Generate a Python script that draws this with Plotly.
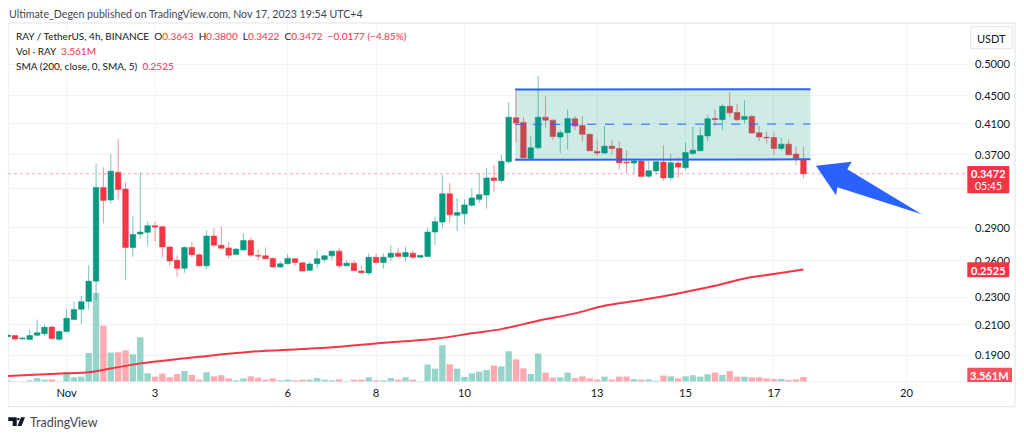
import pandas as pd
import plotly.graph_objects as go

# 4h bars, first one is 2023-10-30 16:00
ohlc = [
    (.2019, .2032, .2018, .2030), (.2027, .2029, .1991, .2004), (.2004, .2015, .2000, .2009), (.2001, .2067, .2000, .2027),
    (.2029, .2138, .2022, .2046), (.2040, .2103, .2022, .2083), (.2085, .2095, .2002, .2007), (.2002, .2067, .1991, .2055),
    (.2055, .2215, .2046, .2147), (.2138, .2269, .2138, .2210), (.2212, .2312, .2105, .2269), (.2271, .2562, .2212, .2429),
    (.2429, .3593, .2279, .3317), (.3317, .3547, .2943, .3177), (.3181, .3706, .3146, .3501), (.3489, .3893, .3188, .3295),
    (.3299, .3376, .2442, .2717), (.2717, .3014, .2634, .2836), (.2841, .3489, .2798, .2860), (.2857, .2960, .2731, .2921),
    (.2921, .2960, .2771, .2907), (.2911, .2924, .2631, .2722), (.2720, .2737, .2562, .2597), (.2603, .2646, .2465, .2535),
    (.2535, .2728, .2498, .2717), (.2717, .2764, .2629, .2651), (.2651, .2663, .2556, .2556), (.2556, .2876, .2527, .2822),
    (.2822, .2897, .2722, .2737), (.2737, .2911, .2704, .2710), (.2713, .2771, .2617, .2648), (.2654, .2710, .2648, .2702),
    (.2695, .2847, .2687, .2780), (.2780, .2811, .2631, .2648), (.2646, .2699, .2603, .2640), (.2642, .2717, .2614, .2617),
    (.2620, .2629, .2538, .2546), (.2546, .2594, .2538, .2574), (.2574, .2657, .2568, .2620), (.2617, .2623, .2554, .2585),
    (.2582, .2591, .2507, .2512), (.2518, .2594, .2512, .2571), (.2574, .2693, .2532, .2617), (.2611, .2651, .2588, .2642),
    (.2642, .2687, .2605, .2684), (.2684, .2710, .2538, .2556), (.2556, .2603, .2554, .2579), (.2579, .2603, .2510, .2515),
    (.2512, .2559, .2496, .2498), (.2496, .2663, .2479, .2629), (.2629, .2666, .2582, .2585), (.2585, .2663, .2532, .2631),
    (.2631, .2737, .2597, .2666), (.2666, .2710, .2634, .2637), (.2634, .2725, .2594, .2672), (.2666, .2690, .2614, .2629),
    (.2631, .2651, .2623, .2646), (.2637, .2905, .2634, .2860), (.2860, .3009, .2740, .2960), (.2956, .3458, .2895, .3248),
    (.3248, .3368, .2953, .3028), (.3024, .3203, .2869, .3051), (.3038, .3188, .2934, .3130), (.3126, .3306, .3105, .3203),
    (.3188, .3481, .3150, .3238), (.3235, .3539, .3092, .3424), (.3424, .3577, .3270, .3394), (.3394, .3694, .3365, .3618),
    (.3613, .4402, .3589, .4190), (.4182, .4579, .3851, .4108), (.4118, .4195, .3621, .3661), (.3653, .3931, .3637, .3784),
    (.3784, .4805, .3767, .4190), (.4190, .4490, .4047, .4149), (.4149, .4159, .3885, .3929), (.3923, .4014, .3718, .3980),
    (.3980, .4298, .3767, .4172), (.4168, .4203, .4014, .4068), (.4077, .4203, .3859, .3958), (.3958, .3964, .3743, .3747),
    (.3739, .3893, .3682, .3718), (.3718, .4068, .3714, .3805), (.3805, .3880, .3706, .3776), (.3776, .3864, .3519, .3601),
    (.3609, .3755, .3481, .3601), (.3597, .3653, .3478, .3621), (.3621, .3633, .3436, .3441), (.3443, .3621, .3421, .3507),
    (.3504, .3621, .3458, .3613), (.3609, .3817, .3390, .3424), (.3427, .3706, .3394, .3601), (.3597, .3666, .3424, .3549),
    (.3541, .3851, .3512, .3727), (.3714, .4055, .3694, .3755), (.3747, .4055, .3743, .3941), (.3936, .4218, .3868, .4168),
    (.4172, .4298, .4068, .4159), (.4155, .4383, .4014, .4344), (.4344, .4560, .4190, .4251), (.4255, .4383, .4136, .4155),
    (.4159, .4431, .4100, .4200), (.4200, .4231, .3967, .3975), (.3980, .4068, .3872, .3923), (.3919, .3994, .3838, .3913),
    (.3915, .3980, .3702, .3776), (.3776, .3915, .3751, .3830), (.3830, .3890, .3694, .3697), (.3706, .3791, .3573, .3653),
    (.3643, .3800, .3422, .3472),
]
volume = [
    1.0, .5, .3, 1.2, 2.8, 1.7, 1.9, .5, 6.9, 3.3, 3.8, 20.6, 63.2, 40, 20.9, 21.1, 22.5, 19.7, 31.7, 6.2,
    3.8, 6.0, 3.3, 5.7, 7.8, 5.0, 1.7, 6.9, 4.0, 4.8, 2.6, 1.2, 2.6, 4.0, 3.1, 1.7, 2.6, 1.2, 1.7, 1.2,
    1.7, 1.7, 2.8, 1.7, 1.2, 1.9, .5, 1.7, 1.7, 3.3, 1.2, 1.2, 2.8, 1.7, 3.3, 1.7, .5, 12.4, 9.5, 26.1,
    12.6, 9.5, 3.6, 6.2, 7.4, 8.5, 11.6, 11.1, 21.8, 16.1, 9.7, 5.7, 20.2, 6.7, 3.1, 3.3, 6.7, 2.8, 4.0, 2.6,
    1.7, 3.8, 1.7, 3.8, 3.8, 2.1, 1.7, 1.9, 1.0, 4.5, 4.0, 2.6, 4.0, 4.8, 3.8, 5.5, 6.7, 5.0, 7.8, 3.8,
    3.8, 3.3, 3.3, 2.6, 2.1, 2.1, 1.4, 1.9, 3.561,
]

df = pd.DataFrame(ohlc, columns=["open", "high", "low", "close"])
df["time"] = pd.date_range("2023-10-30 16:00", periods=len(df), freq="4h")
df["volume"] = volume
vol_colors = ["rgba(8,153,129,0.42)" if c >= o else "rgba(242,54,69,0.42)" for o, c in zip(df["open"], df["close"])]

# moving average
sma = [
    ("2023-10-30 16:00", .1772), ("2023-11-01 00:00", .1788), ("2023-11-01 12:00", .1794), ("2023-11-02 00:00", .1817),
    ("2023-11-02 16:00", .1848), ("2023-11-04 00:00", .1889), ("2023-11-05 04:00", .1921), ("2023-11-06 08:00", .1938),
    ("2023-11-07 04:00", .1953), ("2023-11-08 00:00", .1975), ("2023-11-09 08:00", .2006), ("2023-11-10 04:00", .2042),
    ("2023-11-10 20:00", .2071), ("2023-11-11 16:00", .2129), ("2023-11-12 12:00", .2182), ("2023-11-13 04:00", .2238),
    ("2023-11-14 00:00", .2281), ("2023-11-14 20:00", .2332), ("2023-11-15 16:00", .2392), ("2023-11-16 08:00", .2451),
    ("2023-11-17 00:00", .2487), ("2023-11-17 16:00", .2525),
]
sma_x, sma_y = zip(*sma)

ch_left, ch_right = "2023-11-11 03:30", "2023-11-17 19:50"
ch_top, ch_mid, ch_bot = .4593, .4091, .3638
blue = "#2962FF"
text_col = "#131722"
font = "Lato"

fig = go.Figure()

fig.add_trace(go.Bar(x=df["time"], y=df["volume"], marker=dict(color=vol_colors, line=dict(width=0)), yaxis="y2", width=6.4 * 3600 * 1000 * 4 / 7.37))
fig.add_trace(go.Scatter(x=["2023-10-30 16:12", "2023-11-21 08:48"], y=[.3472, .3472], mode="lines", line=dict(color="rgba(242,54,69,0.45)", width=1, dash="dot")))
fig.add_trace(
    go.Candlestick(
        x=df["time"],
        open=df["open"],
        high=df["high"],
        low=df["low"],
        close=df["close"],
        increasing=dict(line=dict(color="rgba(8,153,129,0.55)", width=1), fillcolor="#089981"),
        decreasing=dict(line=dict(color="rgba(242,54,69,0.55)", width=1), fillcolor="#F23645"),
        whiskerwidth=0,
    )
)
fig.add_trace(go.Scatter(x=sma_x, y=sma_y, mode="lines", line=dict(color="#F23645", width=2, shape="spline")))

# channel
fig.add_trace(
    go.Scatter(
        x=[ch_left, ch_right, ch_right, ch_left, ch_left],
        y=[ch_top, ch_top, ch_bot, ch_bot, ch_top],
        mode="lines",
        line=dict(width=0),
        fill="toself",
        fillcolor="rgba(8,153,129,0.2)",
    )
)
fig.add_trace(go.Scatter(x=[ch_left, ch_right], y=[ch_top, ch_top + .0006], mode="lines", line=dict(color=blue, width=2)))
fig.add_trace(go.Scatter(x=[ch_left, ch_right], y=[ch_bot, ch_bot + .0004], mode="lines", line=dict(color=blue, width=2)))
fig.add_trace(go.Scatter(x=[ch_left, ch_right], y=[ch_mid, ch_mid + .0005], mode="lines", line=dict(color=blue, width=1, dash="dash")))


def px(x):
    return (x - 8) / 959


def py(y):
    return (382 - y) / 359


arrow = [(816, 165.7), (851.7, 161.7), (847.3, 169.3), (921.7, 214.3), (837.3, 187.3), (836, 195.3)]
logo = [(8.3, 417.3), (16.7, 417.3), (16.7, 426), (12.7, 426), (12.7, 421), (8.3, 421)]
logo2 = [(17.5, 426), (21.5, 426), (25, 417.3), (21, 417.3)]
logo3 = [(17.2, 418), (19.4, 418), (19.4, 420.2), (17.2, 420.2)]
shapes = [
    dict(type="rect", xref="paper", yref="paper", x0=px(8), x1=px(1015), y0=py(23), y1=py(406.7), line=dict(color="#E0E3EB", width=1), layer="below"),
    dict(type="line", xref="paper", yref="paper", x0=px(8), x1=px(1015), y0=0, y1=0, line=dict(color="#F0F3FA", width=1)),
    dict(type="rect", xref="paper", yref="paper", x0=px(967.3), x1=px(1009.3), y0=py(166), y1=py(193.3), fillcolor="#F23645", line=dict(width=0)),
    dict(type="rect", xref="paper", yref="paper", x0=px(967.3), x1=px(1009.3), y0=py(262.3), y1=py(277.3), fillcolor="#F23645", line=dict(width=0)),
    dict(type="rect", xref="paper", yref="paper", x0=px(967.3), x1=px(1012), y0=py(367.7), y1=py(382), fillcolor="#F7525F", line=dict(width=0)),
    dict(type="rect", xref="paper", yref="paper", x0=px(970.7), x1=px(1012.3), y0=py(26.7), y1=py(48.7), line=dict(color="#E0E3EB", width=1)),
]
for pts, col in ((arrow, blue), (logo, text_col), (logo2, text_col), (logo3, text_col)):
    path = "M " + " L ".join(f"{px(a):.4f} {py(b):.4f}" for a, b in pts) + " Z"
    shapes.append(dict(type="path", xref="paper", yref="paper", path=path, fillcolor=col, line=dict(width=0)))

red = "#F23645"
notes = [
    (7, 14, "Ultimate_Degen published on TradingView.com, Nov 17, 2023 19:54 UTC+4", 10.6, "#434651", "left"),
    (14, 36, f'RAY / TetherUS, 4h, BINANCE  O<span style="color:{red}">0.3643</span>  H<span style="color:{red}">0.3800</span>  L<span style="color:{red}">0.3422</span>  C<span style="color:{red}">0.3472</span>  <span style="color:{red}">−0.0177 (−4.85%)</span>', 10, text_col, "left"),
    (14, 51, f'Vol · RAY  <span style="color:{red}">3.561M</span>', 10, text_col, "left"),
    (14, 66, f'SMA (200, close, 0, SMA, 5)  <span style="color:{red}">0.2525</span>', 10, text_col, "left"),
    (991, 38, "USDT", 11, text_col, "center"),
    (988, 173.5, "<b>0.3472</b>", 11, "#FFFFFF", "center"),
    (988, 186, "05:45", 10.5, "#FFFFFF", "center"),
    (988, 270, "<b>0.2525</b>", 11, "#FFFFFF", "center"),
    (989, 375.5, "<b>3.561M</b>", 11, "#FFFFFF", "center"),
    (28, 422, "TradingView", 12.5, "#434651", "left"),
]
annotations = [
    dict(xref="paper", yref="paper", x=px(a), y=py(b), text=t, showarrow=False, font=dict(size=s, color=c, family=font), xanchor=xa, yanchor="middle")
    for a, b, t, s, c, xa in notes
]

ticks = [.5, .45, .41, .37, .33, .29, .26, .23, .21, .19]
fig.update_layout(
    # the page keeps an 8px margin round the figure
    width=1016,
    height=429,
    margin=dict(l=0, r=57, t=15, b=55),
    paper_bgcolor="white",
    plot_bgcolor="white",
    showlegend=False,
    font=dict(family=font, size=11.2, color=text_col),
    shapes=shapes,
    annotations=annotations,
    barmode="overlay",
    boxgap=0.25,
    boxgroupgap=0,
    xaxis=dict(
        type="date",
        range=["2023-10-30 16:12", "2023-11-21 08:48"],
        rangeslider=dict(visible=False),
        tickvals=["2023-11-01", "2023-11-03", "2023-11-06", "2023-11-08", "2023-11-10", "2023-11-13", "2023-11-15", "2023-11-17", "2023-11-20"],
        ticktext=["Nov", "3", "6", "8", "10", "13", "15", "17", "20"],
        gridcolor="#F0F3FA",
        zeroline=False,
        ticks="",
        ticklabelstandoff=3,
    ),
    yaxis=dict(
        type="log",
        side="right",
        range=[-0.7602, -0.2418],
        tickvals=ticks,
        ticktext=[f"{t:.4f}" if t != .33 else "" for t in ticks],
        gridcolor="#F0F3FA",
        ticks="",
        ticklabelstandoff=7,
        zeroline=False,
        overlaying="y2",
    ),
    yaxis2=dict(range=[0, 255], showgrid=False, showticklabels=False, zeroline=False, side="left"),
)

fig.write_html("out.html")
